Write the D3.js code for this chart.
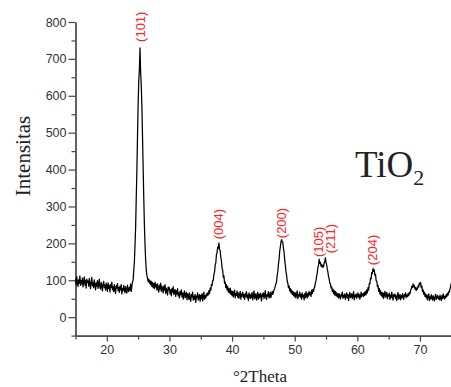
<!DOCTYPE html>
<html>
<head>
<meta charset="utf-8">
<script src="https://cdn.jsdelivr.net/npm/d3@7"></script>
<style>
  body { margin: 0; background: #fff; }
  svg { display: block; }
  .axis path, .axis line { stroke: #444; stroke-width: 1.2; }
  .axis text { font-family: "Liberation Sans", Arial, sans-serif; font-size: 12.5px; fill: #333; }
</style>
</head>
<body>
<svg width="451" height="387"></svg>
<script>
// XRD scan: one value every 0.1 deg from 15.0 to 75.0
var scanStart = 15;
var scanStep = 0.1;
var intensity = [
  104, 88, 110, 95, 83, 101, 92, 112, 86, 99,      // 15
  90, 106, 82, 97, 109, 87, 100, 79, 103, 94,      // 16
  98, 84, 105, 90, 77, 96, 108, 85, 93, 80,        // 17
  101, 89, 74, 92, 84, 99, 78, 88, 103, 81,        // 18
  76, 94, 85, 71, 90, 97, 80, 87, 73, 92,          // 19
  84, 70, 93, 78, 86, 68, 89, 81, 95, 74,          // 20
  82, 69, 88, 76, 64, 85, 79, 91, 72, 80,          // 21
  67, 84, 74, 88, 63, 78, 71, 86, 76, 66,          // 22
  83, 72, 65, 87, 75, 69, 81, 73, 90, 70,          // 23
  84, 95, 101, 126, 149, 195, 244, 323, 398, 490,  // 24
  578, 640, 672, 730, 664, 628, 570, 490, 405, 322,// 25
  250, 196, 155, 128, 112, 106, 96, 103, 92, 99,   // 26
  88, 97, 83, 94, 80, 91, 77, 95, 82, 89,          // 27
  73, 90, 79, 68, 87, 76, 92, 70, 84, 77,          // 28
  66, 84, 73, 88, 64, 79, 71, 60, 82, 74,          // 29
  80, 63, 74, 58, 77, 68, 83, 61, 70, 75,          // 30
  56, 72, 63, 77, 58, 66, 52, 70, 61, 74,          // 31
  55, 66, 49, 62, 71, 52, 60, 67, 47, 64,          // 32
  60, 48, 66, 52, 43, 61, 55, 68, 46, 57,          // 33
  49, 62, 40, 57, 53, 66, 46, 55, 61, 43,          // 34
  59, 50, 64, 44, 56, 68, 48, 58, 52, 63,          // 35
  58, 66, 60, 72, 64, 79, 73, 88, 86, 99,          // 36
  100, 117, 122, 141, 147, 169, 175, 190, 186, 201,// 37
  184, 180, 162, 153, 132, 128, 108, 112, 92, 95,  // 38
  80, 88, 74, 83, 68, 77, 66, 79, 62, 71,          // 39
  58, 70, 55, 66, 73, 52, 64, 59, 71, 54,          // 40
  66, 51, 62, 70, 49, 63, 57, 68, 53, 61,          // 41
  48, 64, 56, 69, 52, 60, 45, 66, 58, 50,          // 42
  62, 53, 67, 47, 59, 71, 50, 56, 64, 46,          // 43
  55, 68, 49, 61, 53, 65, 58, 44, 63, 57,          // 44
  66, 50, 59, 72, 54, 48, 62, 57, 69, 52,          // 45
  58, 67, 53, 63, 70, 62, 68, 74, 78, 84,          // 46
  90, 96, 113, 124, 143, 157, 178, 190, 203, 210,  // 47
  204, 203, 186, 176, 156, 141, 124, 114, 98, 92,  // 48
  80, 85, 71, 78, 66, 73, 62, 70, 58, 67,          // 49
  55, 66, 52, 63, 71, 50, 61, 57, 68, 54,          // 50
  62, 49, 66, 55, 60, 47, 64, 53, 69, 58,          // 51
  52, 65, 57, 70, 61, 67, 56, 73, 64, 75,          // 52
  70, 78, 83, 93, 99, 112, 120, 135, 140, 157,     // 53
  146, 149, 138, 142, 135, 141, 136, 147, 150, 161,// 54
  148, 142, 130, 122, 110, 104, 92, 90, 79, 82,    // 55
  70, 76, 64, 72, 60, 69, 58, 66, 55, 63,          // 56
  52, 64, 56, 49, 62, 57, 68, 51, 60, 54,          // 57
  63, 48, 58, 66, 52, 61, 45, 59, 67, 53,          // 58
  56, 64, 50, 58, 69, 47, 60, 55, 63, 51,          // 59
  59, 66, 54, 62, 49, 57, 68, 55, 61, 64,          // 60
  56, 67, 59, 70, 61, 74, 66, 80, 73, 91,          // 61
  90, 106, 104, 121, 118, 132, 124, 128, 114, 116, // 62
  99, 98, 83, 86, 70, 78, 63, 72, 58, 67,          // 63
  55, 66, 51, 63, 70, 54, 60, 67, 50, 62,          // 64
  57, 65, 48, 60, 53, 68, 55, 46, 61, 56,          // 65
  63, 50, 58, 45, 60, 67, 49, 55, 62, 47,          // 66
  58, 52, 64, 55, 48, 61, 57, 66, 53, 60,          // 67
  56, 64, 58, 67, 63, 72, 76, 84, 80, 90,          // 68
  82, 86, 76, 80, 72, 79, 76, 85, 82, 92,          // 69
  88, 94, 80, 84, 70, 74, 62, 68, 56, 63,          // 70
  52, 60, 47, 57, 63, 45, 55, 49, 61, 53,          // 71
  46, 58, 51, 44, 56, 62, 48, 53, 59, 50,          // 72
  55, 47, 60, 52, 45, 58, 50, 63, 54, 49,          // 73
  57, 52, 62, 56, 65, 60, 70, 68, 78, 84,          // 74
  92                                               // 75
];

// peak labels (Miller indices), where each label sits: 2theta and intensity of its lower end
var hkl = ['(101)', '(004)', '(200)', '(105)', '(211)', '(204)'];
var hklTheta = [25.45, 37.85, 47.85, 53.75, 55.75, 62.45];
var hklLevel = [746, 211, 214, 163, 173, 141];

var xMajor = [20, 30, 40, 50, 60, 70];
var xMinor = [15, 25, 35, 45, 55, 65, 75];
var yMajor = [0, 100, 200, 300, 400, 500, 600, 700, 800];
var yMinor = [-50, 50, 150, 250, 350, 450, 550, 650, 750];

var svg = d3.select('svg');

var x = d3.scaleLinear().domain([15, 75]).range([75.5, 451.3]);
var y = d3.scaleLinear().domain([-50, 800]).range([335.6, 22]);

var points = intensity.map(function(v, i) {
    return {t: scanStart + i * scanStep, v: v};
});

// axes: minor ticks first, then the labelled ones
svg.append('g')
    .attr('class', 'axis')
    .attr('transform', 'translate(0,' + y(-50) + ')')
    .call(d3.axisBottom(x).tickValues(xMinor).tickSize(4).tickSizeOuter(0).tickFormat(''));
svg.append('g')
    .attr('class', 'axis')
    .attr('transform', 'translate(0,' + y(-50) + ')')
    .call(d3.axisBottom(x).tickValues(xMajor).tickSize(6).tickSizeOuter(0).tickPadding(4));

svg.append('g')
    .attr('class', 'axis')
    .attr('transform', 'translate(' + x(15) + ',0)')
    .call(d3.axisLeft(y).tickValues(yMinor).tickSize(4).tickSizeOuter(0).tickFormat(''));
svg.append('g')
    .attr('class', 'axis')
    .attr('transform', 'translate(' + x(15) + ',0)')
    .call(d3.axisLeft(y).tickValues(yMajor).tickSize(7).tickSizeOuter(0).tickPadding(2));

// the scan itself
var line = d3.line()
    .x(function(d) { return x(d.t); })
    .y(function(d) { return y(d.v); });

svg.append('path')
    .datum(points)
    .attr('fill', 'none')
    .attr('stroke', '#000')
    .attr('stroke-width', 1.25)
    .attr('stroke-linejoin', 'round')
    .attr('d', line);

// red hkl labels, written upwards
svg.selectAll('.hkl')
    .data(hkl)
    .enter()
    .append('text')
    .attr('class', 'hkl')
    .attr('transform', function(d, i) {
        return 'translate(' + x(hklTheta[i]) + ',' + y(hklLevel[i]) + ') rotate(-90)';
    })
    .attr('dominant-baseline', 'central')
    .attr('font-family', '"Liberation Sans", Arial, sans-serif')
    .attr('font-size', '13px')
    .attr('fill', '#f22')
    .text(function(d) { return d; });

// axis titles
svg.append('text')
    .attr('transform', 'translate(30,156) rotate(-90)')
    .attr('text-anchor', 'middle')
    .attr('font-family', '"Liberation Serif", "Times New Roman", serif')
    .attr('font-size', '21px')
    .attr('fill', '#222')
    .text('Intensitas');

svg.append('text')
    .attr('x', 260)
    .attr('y', 382)
    .attr('text-anchor', 'middle')
    .attr('font-family', '"Liberation Serif", "Times New Roman", serif')
    .attr('font-size', '17px')
    .attr('fill', '#222')
    .text('\u00b02Theta');

// sample name
var title = svg.append('text')
    .attr('x', 355)
    .attr('y', 177)
    .attr('font-family', '"Liberation Serif", "Times New Roman", serif')
    .attr('font-size', '37px')
    .attr('fill', '#222');
title.append('tspan').text('TiO');
title.append('tspan').attr('font-size', '22px').attr('dy', 8).text('2');
</script>
</body>
</html>
